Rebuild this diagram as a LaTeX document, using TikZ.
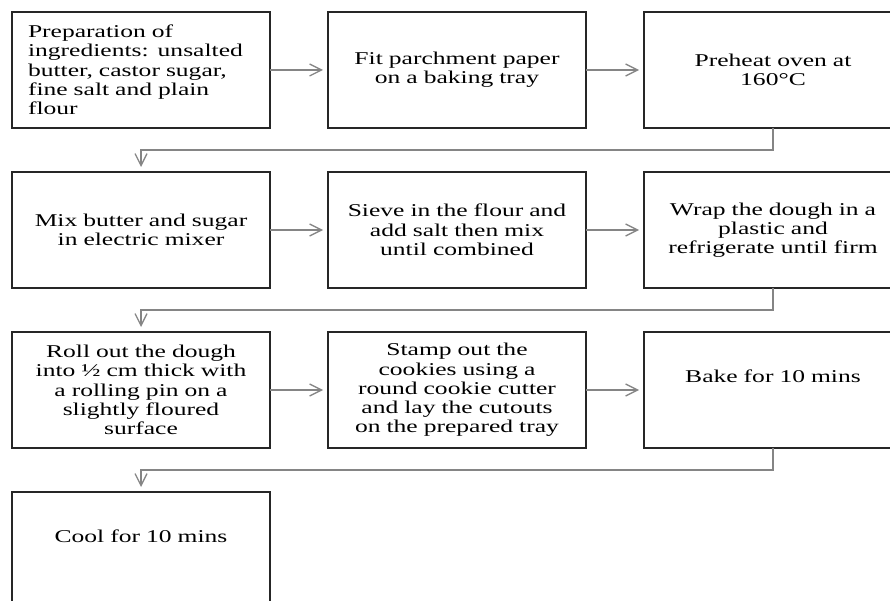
\documentclass[tikz,border=0pt]{standalone}
\usepackage{fontspec}
\setmainfont{Liberation Serif}[FakeStretch=1.42]
\usetikzlibrary{arrows.meta,positioning}
\definecolor{boxline}{HTML}{262626}
\definecolor{flowgray}{HTML}{858585}

\begin{document}
\begin{tikzpicture}[
    stage/.style={rectangle, draw=boxline, line width=2pt, outer sep=0pt, minimum width=258pt, minimum height=116pt, text width=226pt, inner xsep=16pt, align=center, font=\fontsize{18}{19.3}\selectfont},
    arrow/.style={-{Straight Barb[length=12pt,width=12pt]}, line width=1.3pt, color=flowgray, shorten >=5pt}
]
\useasboundingbox (0,0) rectangle (890pt,-601pt);
% first row
\node[stage, align=left] (prep) at (141pt,-70pt) {Preparation of\\ingredients: unsalted\\butter, castor sugar,\\fine salt and plain\\flour};
\node[stage, right=58pt of prep] (parchment) {Fit parchment paper\\on a baking tray};
\node[stage, right=58pt of parchment] (preheat) {Preheat oven at\\160°C};
% second row
\node[stage, below=44pt of prep] (mix) {Mix butter and sugar\\in electric mixer};
\node[stage, right=58pt of mix] (sieve) {Sieve in the flour and\\add salt then mix\\until combined};
\node[stage, right=58pt of sieve] (wrap) {Wrap the dough in a\\plastic and\\refrigerate until firm};
% third row
\node[stage, below=44pt of mix] (roll) {Roll out the dough\\into ½ cm thick with\\a rolling pin on a\\slightly floured\\surface};
\node[stage, right=58pt of roll] (stamp) {Stamp out the\\cookies using a\\round cookie cutter\\and lay the cutouts\\on the prepared tray};
\node[stage, right=58pt of stamp] (bake) {Bake for 10 mins\\[8pt]\mbox{}};
% last row
\node[stage, below=44pt of roll] (cool) {Cool for 10 mins\\[8pt]\mbox{}};

\draw[arrow] (prep) -- (parchment);
\draw[arrow] (parchment) -- (preheat);
\draw[arrow] (preheat.south) -- ++(0,-22pt) -| (mix.north);
\draw[arrow] (mix) -- (sieve);
\draw[arrow] (sieve) -- (wrap);
\draw[arrow] (wrap.south) -- ++(0,-22pt) -| (roll.north);
\draw[arrow] (roll) -- (stamp);
\draw[arrow] (stamp) -- (bake);
\draw[arrow] (bake.south) -- ++(0,-22pt) -| (cool.north);
\end{tikzpicture}
\end{document}
